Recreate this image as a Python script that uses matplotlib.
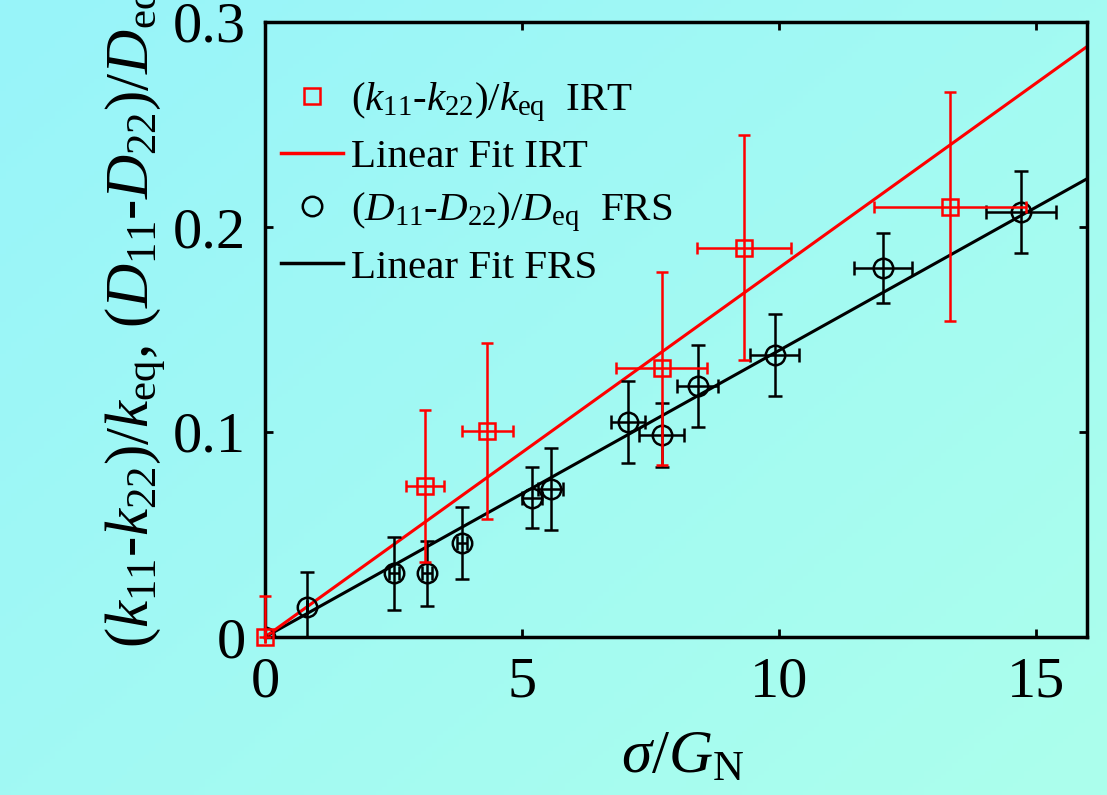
import matplotlib
matplotlib.use("Agg")
import matplotlib.pyplot as plt
from matplotlib.lines import Line2D
import numpy as np

plt.rcParams['font.family'] = ['Liberation Serif', 'DejaVu Serif']
plt.rcParams['mathtext.fontset'] = 'custom'
plt.rcParams['mathtext.rm'] = 'Liberation Serif'
plt.rcParams['mathtext.it'] = 'Liberation Serif:italic'

# IRT data (red squares)
irt_x = [0.0, 3.12, 4.33, 7.72, 9.32, 13.33]
irt_y = [0.0, 0.0737, 0.1005, 0.131, 0.19, 0.21]
irt_xerr = [0.0, 0.37, 0.5, 0.88, 0.92, 1.48]
irt_yerr_lo = [0.0, 0.037, 0.043, 0.047, 0.055, 0.056]
irt_yerr_hi = [0.02, 0.037, 0.043, 0.047, 0.055, 0.056]

# FRS data (black circles)
frs_x = [0.0, 0.82, 2.51, 3.16, 3.84, 5.2, 5.56, 7.06, 7.72, 8.42, 9.92, 12.03, 14.72]
frs_y = [0.0, 0.0146, 0.031, 0.031, 0.046, 0.068, 0.072, 0.105, 0.0985, 0.1224, 0.1376, 0.18, 0.2073]
frs_xerr = [0.0, 0.0, 0.1, 0.1, 0.1, 0.2, 0.25, 0.33, 0.44, 0.4, 0.48, 0.56, 0.68]
frs_yerr = [0.0, 0.017, 0.018, 0.016, 0.0175, 0.015, 0.02, 0.02, 0.0155, 0.02, 0.02, 0.017, 0.02]

# linear fits through the origin (slopes)
irt_slope = 0.0180
frs_slope = 0.01397

W, H = 1107, 795
fig = plt.figure(figsize=(W / 100, H / 100), dpi=100)

# cyan gradient background
bg = fig.add_axes([0, 0, 1, 1], zorder=-10)
c_tl = np.array([152, 244, 250]) / 255
c_br = np.array([172, 255, 236]) / 255
gx, gy = np.meshgrid(np.linspace(0, 1, 200), np.linspace(0, 1, 200))
t = np.clip(0.55 * gx + 0.45 * gy, 0, 1)[..., None]
bg.imshow(c_tl * (1 - t) + c_br * t, aspect='auto', extent=[0, 1, 0, 1], origin='upper')
bg.axis('off')

ax = fig.add_axes([265 / W, 1 - 637 / H, (1087 - 265) / W, (637 - 22) / H])
ax.patch.set_alpha(0)

xf = np.array([0, 16])
ax.plot(xf, frs_slope * xf, color='black', lw=2.2, zorder=2)
ax.plot(xf, irt_slope * xf, color='red', lw=2.2, zorder=2)

ax.errorbar(frs_x, frs_y, xerr=frs_xerr, yerr=frs_yerr, fmt='o', ms=14, mfc='none',
            mec='black', mew=1.8, ecolor='black', elinewidth=1.8, capsize=5, capthick=1.8,
            zorder=3)
ax.errorbar(irt_x, irt_y, xerr=irt_xerr, yerr=[irt_yerr_lo, irt_yerr_hi], fmt='s', ms=11,
            mfc='none', mec='red', mew=1.8, ecolor='red', elinewidth=1.8, capsize=4,
            capthick=1.8, zorder=4, clip_on=False)

ax.set_xlim(0, 16)
ax.set_ylim(0, 0.3)
ax.set_xticks([0, 5, 10, 15])
ax.set_yticks([0, 0.1, 0.2, 0.3])
ax.set_yticklabels(['0', '0.1', '0.2', '0.3'])
ax.tick_params(direction='in', length=6, width=2, top=True, right=True,
               labelsize=42, colors='black')
ax.tick_params(axis='x', pad=14)
ax.tick_params(axis='y', pad=14)
for s in ax.spines.values():
    s.set_linewidth(2.5)

handles = [
    Line2D([], [], ls='none', marker='s', ms=11, mfc='none', mec='red', mew=1.8),
    Line2D([], [], color='red', lw=2.5),
    Line2D([], [], ls='none', marker='o', ms=14, mfc='none', mec='black', mew=1.8),
    Line2D([], [], color='black', lw=2.5),
]
labels = [
    r'$(k_{11}$-$k_{22})/k_{\mathrm{eq}}$  IRT',
    'Linear Fit IRT',
    r'$(D_{11}$-$D_{22})/D_{\mathrm{eq}}$  FRS',
    'Linear Fit FRS',
]
ax.legend(handles, labels, loc='upper left', bbox_to_anchor=(0.02, 0.905), frameon=False,
          fontsize=29.5, handlelength=1.5, handletextpad=0.2, labelspacing=0.36,
          borderpad=0, borderaxespad=0)

fig.text(683 / W, 1 - 758 / H, r'$\sigma/G_{\mathrm{N}}$', fontsize=44, ha='center', va='center')
fig.text(136 / W, 1 - 648 / H,
         r'$(k_{11}$-$k_{22})/k_{\mathrm{eq}}$, $(D_{11}$-$D_{22})/D_{\mathrm{eq}}$',
         fontsize=44, rotation=90, ha='center', va='bottom')

fig.savefig('out.png', dpi=100)
